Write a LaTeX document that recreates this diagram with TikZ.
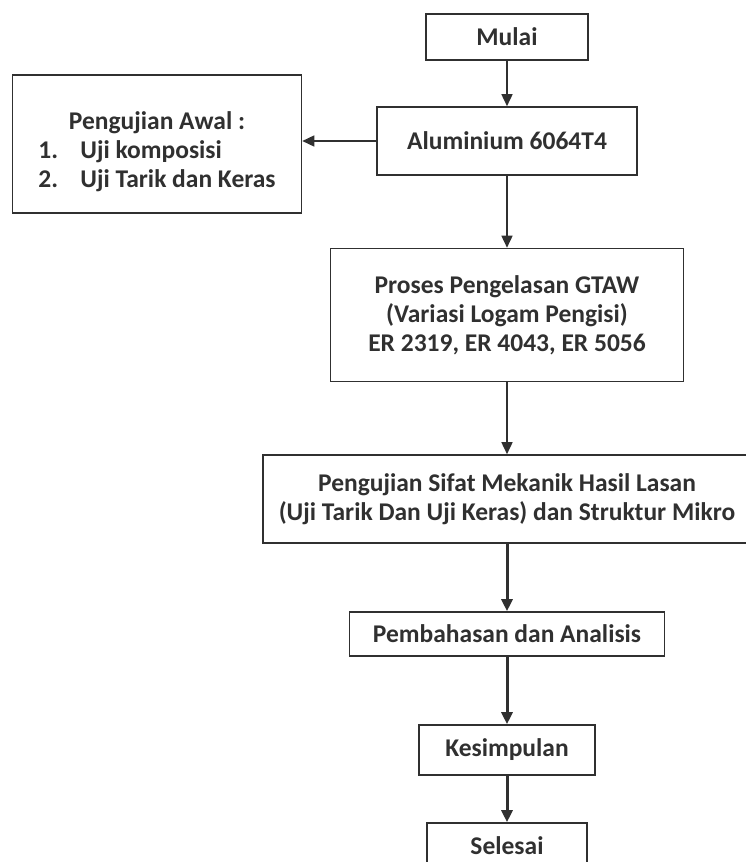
\documentclass[tikz,border=0pt]{standalone}
\usepackage{fontspec}
\setmainfont{Carlito}
\usetikzlibrary{arrows.meta}
\definecolor{ink}{HTML}{303030}

\begin{document}
\begin{tikzpicture}[x=1pt, y=-1pt,
    box/.style={draw=ink, line width=1.6pt, inner sep=0pt, align=center, text=ink,
                font=\fontsize{25.5}{29}\selectfont\bfseries},
    flow/.style={draw=ink, line width=1.6pt, -{Triangle[length=12pt,width=11pt]}},
    heavy/.style={flow, line width=3pt}]
            \useasboundingbox (0,0) rectangle (746,862);

            \node (1) [box, minimum width=162pt, minimum height=46pt] at (507,37) {Mulai};
            \node (2) [box, minimum width=260pt, minimum height=68pt, node distance=104pt, below of=1] {Aluminium 6064T4};
            \node (3) [box, minimum width=289pt, minimum height=138pt, node distance=350pt, left of=2, yshift=-3pt]
                {\raisebox{-9pt}[\height][\depth]{\begin{tabular}{@{}l@{}}%
                    \multicolumn{1}{c}{Pengujian Awal :}\\
                    \makebox[42pt][l]{1.}Uji komposisi\\
                    \makebox[42pt][l]{2.}Uji Tarik dan Keras%
                 \end{tabular}}};
            \node (4) [box, minimum width=353pt, minimum height=133pt, node distance=174pt, below of=2]
                {Proses Pengelasan GTAW\\(Variasi Logam Pengisi)\\ER 2319, ER 4043, ER 5056};
            \node (5) [box, minimum width=488pt, minimum height=88pt, node distance=184pt, below of=4]
                {Pengujian Sifat Mekanik Hasil Lasan\\(Uji Tarik Dan Uji Keras) dan Struktur Mikro};
            \node (6) [box, minimum width=315pt, minimum height=44pt, node distance=135pt, below of=5] {Pembahasan dan Analisis};
            \node (7) [box, minimum width=176pt, minimum height=50pt, node distance=116pt, below of=6] {Kesimpulan};
            \node (8) [box, minimum width=160pt, minimum height=46pt, node distance=96pt, below of=7] {Selesai};

            \draw [flow] (1) to (2);
            \draw [flow] (2.west) to (2.west -| 3.east);
            \draw [flow] (2) to (4);
            \draw [flow] (4) to (5);
            \draw [heavy] (5) to (6);
            \draw [heavy] (6) to (7);
            \draw [heavy] (7) to (8);
        \end{tikzpicture}
\end{document}
